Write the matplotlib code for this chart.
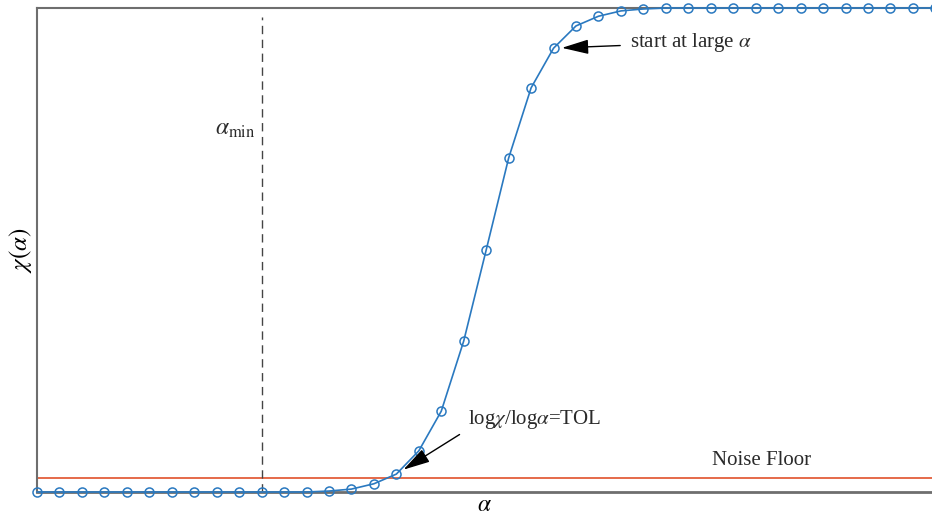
import matplotlib.pyplot as plt
import numpy as np

plt.rcParams['font.family'] = ['Liberation Serif', 'DejaVu Serif']
plt.rcParams['mathtext.fontset'] = 'stix'

# chi(alpha) sampled on a uniform alpha grid (normalised to 0..1)
alpha = np.arange(41)
chi = [0, 0, 0, 0, 0, 0, 0, 0, 0, 0,
       0, 0, 0, 0.002, 0.006, 0.017, 0.037, 0.085, 0.167, 0.312,
       0.5, 0.69, 0.835, 0.917, 0.963, 0.983, 0.994, 0.998, 1.0, 1.0,
       1.0, 1.0, 1.0, 1.0, 1.0, 1.0, 1.0, 1.0, 1.0, 1.0, 1.0]
noise_floor = 0.029
alpha_min = 10
alpha_min_top = 0.981
start_idx = 23
tol_idx = 16

fig = plt.figure(figsize=(9.32, 5.17), dpi=100)
ax = fig.add_axes([37 / 932, 25 / 517, 1 - 37 / 932, 484 / 517])

ax.axhline(noise_floor, color='#e0502a', lw=1.2, zorder=1)
ax.plot([alpha_min, alpha_min], [0, alpha_min_top], ls=(0, (6, 4)),
        color='#444444', lw=1.0, zorder=1)
ax.plot(alpha, chi, color='#2a79c0', lw=1.2, marker='o', ms=6.5,
        mfc='none', mec='#2a79c0', mew=1.1, clip_on=False, zorder=3)

ax.set_xlim(0, 39.85)
ax.set_ylim(0, 1)
ax.set_xticks([])
ax.set_yticks([])
ax.spines['right'].set_visible(False)
for side in ['left', 'top', 'bottom']:
    ax.spines[side].set_color('#6e6e6e')
    ax.spines[side].set_linewidth(1.5)
ax.spines['bottom'].set_linewidth(2.0)

ax.set_xlabel(r'$\alpha$', fontsize=17, labelpad=2)
ax.set_ylabel(r'$\chi(\alpha)$', fontsize=18, labelpad=2)

txt = '#2a2a2a'
head = '-|>,head_length=1.1,head_width=0.3'
ax.annotate(r'start at large $\alpha$', xy=(alpha[start_idx], chi[start_idx]),
            xytext=(26.4, 0.928), fontsize=15, color=txt,
            va='center', ha='left',
            arrowprops=dict(arrowstyle=head, color='black', lw=1.0,
                            shrinkA=5, shrinkB=6, relpos=(0, 0.4)))
ax.annotate(r'log$\chi$/log$\alpha$=TOL', xy=(alpha[tol_idx], chi[tol_idx]),
            xytext=(19.2, 0.149), fontsize=15, color=txt,
            va='center', ha='left',
            arrowprops=dict(arrowstyle=head, color='black', lw=1.0,
                            shrinkA=5, shrinkB=6, relpos=(0, 0.1)))
ax.text(9.75, 0.748, r'$\alpha_{\mathrm{min}}$', fontsize=17,
        ha='right', va='center', color=txt)
ax.text(30.05, 0.066, 'Noise Floor', fontsize=15, ha='left', va='center',
        color=txt)

fig.savefig('out.png', dpi=100)
